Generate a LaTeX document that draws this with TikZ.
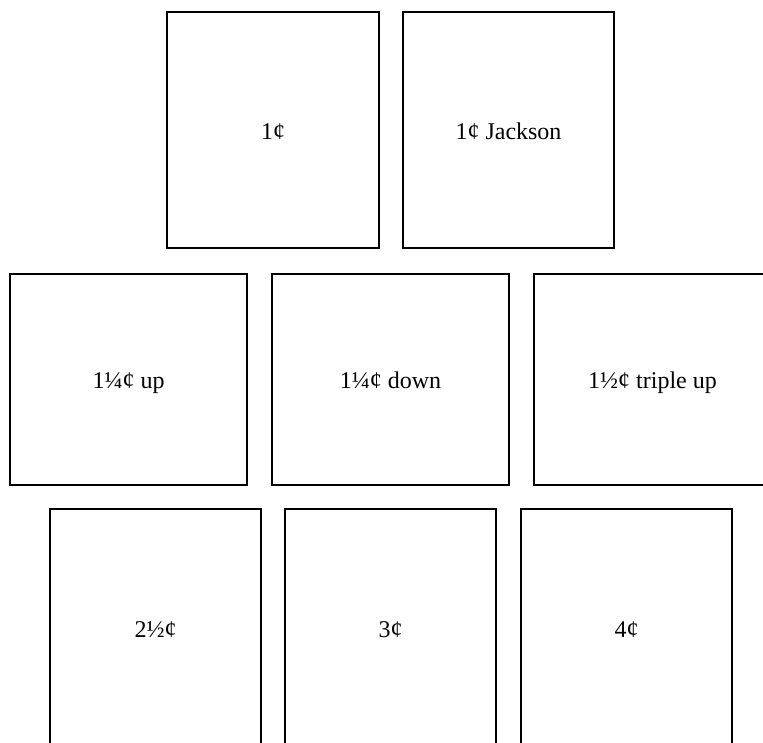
\documentclass[tikz,border=0pt]{standalone}
\usepackage{fontspec}
\setmainfont{Liberation Serif}
\begin{document}
\begin{tikzpicture}[x=1pt,y=-1pt,
  stamp/.style={draw=black,line width=2pt,fill=none},
  lbl/.style={anchor=base,inner sep=0pt,font=\fontsize{24}{28}\selectfont}]
\useasboundingbox (0,0) rectangle (763,742);
\clip (0,0) rectangle (763,742);
% row 1
\draw[stamp] (167,12) rectangle (379,248);
\node[lbl] (a) at (273,139) {1¢};
\draw[stamp] (403,12) rectangle (614,248);
\node[lbl] (b) at (508.5,139) {1¢ Jackson};
% row 2
\draw[stamp] (10,274) rectangle (247,485);
\node[lbl] (c) at (128.5,388) {1¼¢ up};
\draw[stamp] (272,274) rectangle (509,485);
\node[lbl] (d) at (390.5,388) {1¼¢ down};
\draw[stamp] (534,274) rectangle (771,485);
\node[lbl] (e) at (652.5,388) {1½¢ triple up};
% row 3
\draw[stamp] (50,509) rectangle (261,746);
\node[lbl] (f) at (155.5,637) {2½¢};
\draw[stamp] (285,509) rectangle (496,746);
\node[lbl] (g) at (390.5,637) {3¢};
\draw[stamp] (521,509) rectangle (732,746);
\node[lbl] (h) at (626.5,637) {4¢};
\end{tikzpicture}
\end{document}
